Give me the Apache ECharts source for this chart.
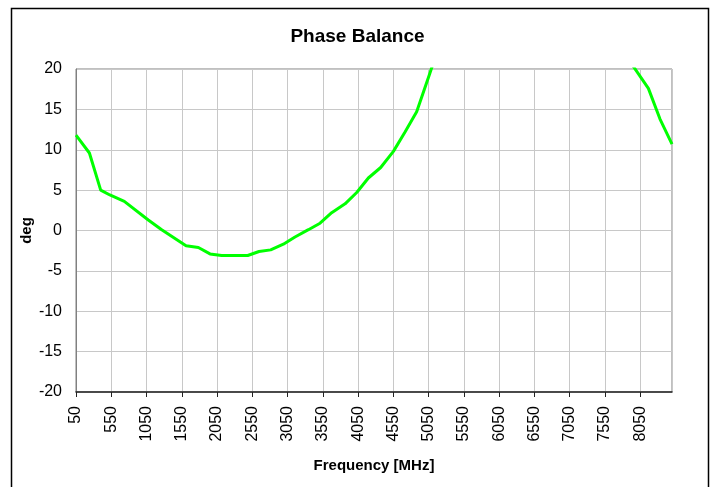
<!DOCTYPE html>
<html>
<head>
<meta charset="utf-8">
<script src="https://cdn.jsdelivr.net/npm/echarts@6/dist/echarts.min.js"></script>
<style>
  html, body { margin: 0; padding: 0; background: #fff; }
  #main { width: 715px; height: 487px; }
</style>
</head>
<body>
<div id="main"></div>
<script>
// frequency (MHz) and phase balance (deg)
var freqs = [50, 240, 400, 530, 735, 1075, 1265, 1610, 1785, 1950, 2115, 2300, 2485, 2645, 2810, 2990,
    3155, 3345, 3510, 3675, 3865, 4030, 4195, 4370, 4550, 4715, 4880, 5060, 5230, 7820, 8165, 8330, 8500];
var phase = [11.8, 9.6, 5.0, 4.4, 3.6, 1.3, 0.1, -1.9, -2.1, -2.9, -3.1, -3.1, -3.1, -2.6, -2.4, -1.7,
    -0.8, 0.1, 0.9, 2.2, 3.3, 4.7, 6.5, 7.8, 9.8, 12.2, 14.7, 19.3, 23.7, 22.0, 17.6, 13.8, 10.7];

var font = 'Liberation Sans, Arial, sans-serif';

var points = [];
for (var i = 0; i < freqs.length; i++) {
    points.push([freqs[i], phase[i]]);
}

var chart = echarts.init(document.getElementById('main'));

var option = {
    animation: false,
    backgroundColor: '#fff',
    title: {
        text: 'Phase Balance',
        left: 'center',
        top: 22,
        textStyle: { fontFamily: font, fontSize: 19, fontWeight: 'bold', color: '#000' }
    },
    graphic: [{
        type: 'rect',
        shape: { x: 11.5, y: 8.5, width: 697, height: 490 },
        style: { fill: 'none', stroke: '#000', lineWidth: 1.5 },
        silent: true
    }],
    grid: {
        left: 76, top: 69, width: 596, height: 323,
        show: true, borderColor: '#808080', borderWidth: 1
    },
    xAxis: {
        type: 'value',
        min: 50,
        max: 8500,
        interval: 500,
        name: 'Frequency [MHz]',
        nameLocation: 'middle',
        nameGap: 66,
        nameMoveOverlap: false,
        nameTextStyle: { fontFamily: font, fontSize: 15, fontWeight: 'bold', color: '#000' },
        axisLine: { onZero: false, lineStyle: { color: '#222', width: 1.5 } },
        axisTick: { show: true, length: 5, lineStyle: { color: '#222' } },
        axisLabel: {
            rotate: 90, margin: 14, showMaxLabel: false,
            fontFamily: font, fontSize: 16, color: '#000',
            formatter: function (v) { return String(v); }
        },
        splitLine: { show: true, lineStyle: { color: '#c8c8c8', width: 1 } }
    },
    yAxis: {
        type: 'value',
        min: -20,
        max: 20,
        interval: 5,
        name: 'deg',
        nameLocation: 'middle',
        nameGap: 42,
        nameMoveOverlap: false,
        nameTextStyle: { fontFamily: font, fontSize: 15, fontWeight: 'bold', color: '#000' },
        axisLine: { show: true, lineStyle: { color: '#808080', width: 1 } },
        axisTick: { show: false },
        axisLabel: { margin: 14, fontFamily: font, fontSize: 16, color: '#000' },
        splitLine: { show: true, lineStyle: { color: '#c8c8c8', width: 1 } }
    },
    series: [{
        type: 'line',
        data: points,
        showSymbol: false,
        symbol: 'none',
        clip: true,
        lineStyle: { color: '#00ff00', width: 3 }
    }]
};

chart.setOption(option);
</script>
</body>
</html>
